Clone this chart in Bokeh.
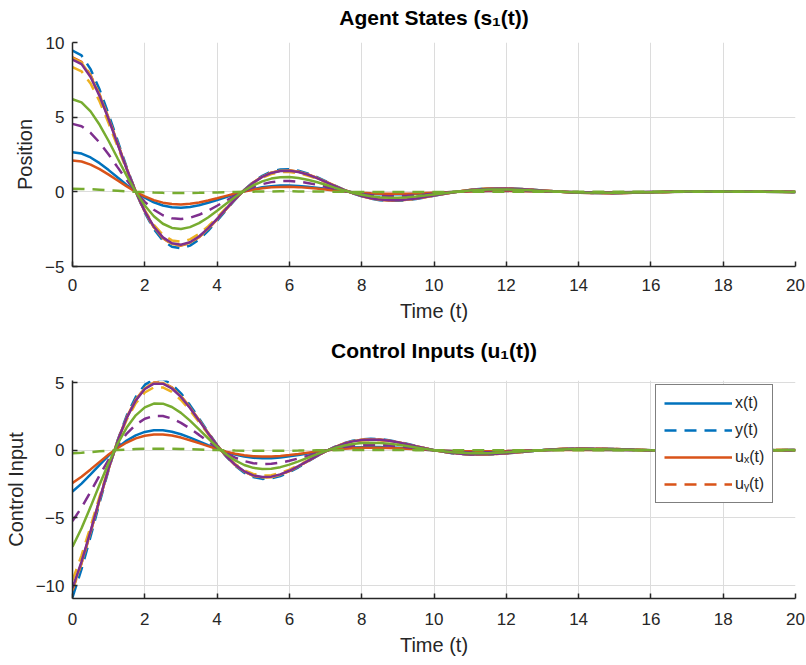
from bokeh.plotting import figure
from bokeh.layouts import column
from bokeh.models import Range1d, FixedTicker, Legend, LegendItem, LinearAxis
from bokeh.embed import file_html
from bokeh.resources import INLINE

# ---- data ----
t = [0, 0.25, 0.5, 0.75, 1, 1.25, 1.5, 1.75, 2, 2.25, 2.5, 2.75, 3, 3.25, 3.5, 3.75,
     4, 4.25, 4.5, 4.75, 5, 5.25, 5.5, 5.75, 6, 6.25, 6.5, 6.75, 7, 7.25, 7.5, 7.75,
     8, 8.25, 8.5, 8.75, 9, 9.25, 9.5, 9.75, 10, 10.5, 11, 11.5, 12, 12.5, 13, 13.5,
     14, 15, 16, 17, 18, 19, 20]

# common response profile of the states (per unit of initial value)
state_profile = [1.0, 0.9664, 0.8691, 0.7243, 0.5491, 0.3602, 0.1729, 0.0002, -0.1477,
                 -0.2639, -0.3447, -0.3895, -0.4004, -0.3812, -0.3380, -0.2770, -0.2051,
                 -0.1291, -0.0548, 0.0127, 0.0696, 0.1134, 0.1429, 0.1580, 0.1598, 0.1501,
                 0.1310, 0.1055, 0.0761, 0.0456, 0.0163, -0.0100, -0.0318, -0.0483, -0.0589,
                 -0.0639, -0.0636, -0.0588, -0.0506, -0.0400, -0.0280, -0.0043, 0.0142,
                 0.0242, 0.0252, 0.0195, 0.0103, 0.0008, -0.0063, -0.0100, -0.0037, 0.0027,
                 0.0040, 0.0013, -0.0012]

# common response profile of the control inputs (per unit of initial state)
input_profile = [-1.15, -0.9294, -0.6745, -0.4086, -0.1520, 0.0785, 0.2704, 0.4157, 0.5106,
                 0.5557, 0.5551, 0.5152, 0.4447, 0.3527, 0.2490, 0.1426, 0.0414, -0.0483,
                 -0.1216, -0.1759, -0.2098, -0.2240, -0.2205, -0.2017, -0.1714, -0.1333,
                 -0.0912, -0.0488, -0.0089, 0.0258, 0.0537, 0.0739, 0.0858, 0.0900, 0.0872,
                 0.0787, 0.0658, 0.0501, 0.0331, 0.0162, 0.0006, -0.0234, -0.0349, -0.0345,
                 -0.0251, -0.0119, 0.0009, 0.0101, 0.0142, 0.0096, -0.0008, -0.0057, -0.0037,
                 0.0005, 0.0023]

agent_colors = ["#0072BD", "#D95319", "#EDB120", "#7E2F8E", "#77AC30"]
init_x = [2.65, 2.1, 8.95, 8.85, 6.2]
init_y = [9.45, 9.0, 8.35, 4.55, 0.2]

x_ticks = [0, 2, 4, 6, 8, 10, 12, 14, 16, 18, 20]
top_y_ticks = [-5, 0, 5, 10]
bottom_y_ticks = [-10, -5, 0, 5]
legend_labels = ["x(t)", "y(t)", "u\u2093(t)", "u\u1d67(t)"]

FONT = "Liberation Sans"
TXT = "#262626"


def make_fig(height, top, bottom, yr, yticks, ylabel, title, title_gap, tick_standoff,
             label_standoff, profile):
    p = figure(width=806, height=height, x_range=Range1d(0, 20), y_range=Range1d(*yr),
               output_backend="svg", toolbar_location=None,
               min_border_left=72, min_border_right=11,
               min_border_top=top, min_border_bottom=bottom)
    p.outline_line_color = None
    p.background_fill_color = "white"
    p.xaxis.ticker = FixedTicker(ticks=x_ticks)
    p.yaxis.ticker = FixedTicker(ticks=yticks)
    for ax in (p.xaxis[0], p.yaxis[0]):
        ax.major_tick_in = 5
        ax.major_tick_out = 0
        ax.minor_tick_line_color = None
        ax.axis_line_width = 1.5
        ax.axis_line_color = TXT
        ax.major_tick_line_color = TXT
        ax.major_tick_line_width = 1.5
        ax.major_label_text_font = FONT
        ax.major_label_text_font_size = "17px"
        ax.major_label_text_color = TXT
        ax.axis_label_text_font = FONT
        ax.axis_label_text_font_size = "20px"
        ax.axis_label_text_font_style = "normal"
        ax.axis_label_text_color = TXT
    p.yaxis.major_label_standoff = 8
    p.yaxis.axis_label_standoff = 6
    p.xaxis.major_label_standoff = tick_standoff
    p.xaxis.axis_label_standoff = label_standoff
    p.yaxis.axis_label = ylabel
    p.xaxis.axis_label = "Time (t)"
    p.grid.grid_line_color = "#dcdcdc"
    p.grid.grid_line_width = 1

    # title drawn as the label of a bare axis above the plot area
    title_axis = LinearAxis(ticker=FixedTicker(ticks=[]), axis_line_color=None,
                            major_tick_in=0, major_tick_out=0, minor_tick_in=0,
                            minor_tick_out=0, major_label_standoff=0,
                            axis_label=title, axis_label_standoff=title_gap,
                            axis_label_text_font=FONT, axis_label_text_font_size="21px",
                            axis_label_text_font_style="bold",
                            axis_label_text_color="#000000")
    p.add_layout(title_axis, "above")

    renderers = []
    for c, ax0, ay0 in zip(agent_colors, init_x, init_y):
        yx = [ax0 * v for v in profile]
        yy = [ay0 * v for v in profile]
        r1 = p.line(t, yx, line_color=c, line_width=2.5)
        r2 = p.line(t, yy, line_color=c, line_width=2.5, line_dash="12 8")
        renderers += [r1, r2]
    return p, renderers


p1, _ = make_fig(335, 42, 69, (-5, 10), top_y_ticks, "Position",
                 "Agent States (s\u2081(t))", 14, 12, 6, state_profile)
p2, rs = make_fig(329, 43, 66, (-10.95, 5.15), bottom_y_ticks, "Control Input",
                  "Control Inputs (u\u2081(t))", 19, 14, 6, input_profile)

legend = Legend(items=[LegendItem(label=lab, renderers=[r]) for lab, r in zip(legend_labels, rs[:4])],
                location=(583, 95))
legend.glyph_width = 68
legend.glyph_height = 20
legend.label_height = 20
legend.label_standoff = 3
legend.padding = 8
legend.spacing = 7
legend.label_text_font = FONT
legend.label_text_font_size = "16px"
legend.label_text_color = TXT
legend.border_line_color = "black"
legend.border_line_width = 1.5
legend.background_fill_alpha = 1.0
p2.add_layout(legend)

layout = column(p1, p2, spacing=0)
open("out.html", "w").write(file_html(layout, INLINE))
